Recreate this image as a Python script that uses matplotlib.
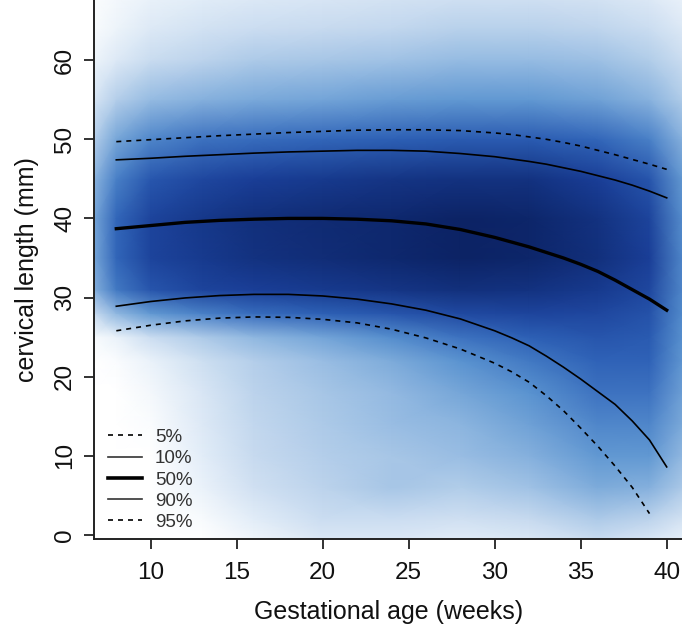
import numpy as np
import matplotlib
matplotlib.use("Agg")
import matplotlib.pyplot as plt
from matplotlib.colors import LinearSegmentedColormap
from matplotlib.lines import Line2D

plt.rcParams['font.family'] = ['Liberation Sans', 'DejaVu Sans']

# ---- percentile curves (gestational age in weeks vs cervical length, mm)
weeks = [8, 10, 12, 14, 16, 18, 20, 22, 24, 26, 28, 30, 31, 32, 33, 34, 35, 36, 37, 38, 39, 40]
p50 = [38.7, 39.1, 39.5, 39.75, 39.9, 40.0, 40.0, 39.9, 39.7, 39.3, 38.6, 37.6, 37.0, 36.4,
       35.7, 35.0, 34.2, 33.3, 32.2, 31.0, 29.8, 28.4]
p90 = [47.4, 47.6, 47.85, 48.05, 48.25, 48.4, 48.5, 48.6, 48.6, 48.5, 48.2, 47.8, 47.5, 47.2,
       46.85, 46.4, 45.95, 45.4, 44.85, 44.2, 43.45, 42.6]
p95 = [49.7, 49.95, 50.2, 50.45, 50.65, 50.85, 51.0, 51.15, 51.2, 51.2, 51.1, 50.8, 50.6, 50.3,
       50.0, 49.6, 49.15, 48.6, 48.05, 47.45, 46.85, 46.2]
p10 = [28.9, 29.5, 29.95, 30.25, 30.4, 30.4, 30.2, 29.8, 29.2, 28.4, 27.3, 25.8, 24.9, 23.9,
       22.6, 21.2, 19.7, 18.1, 16.5, 14.4, 12.0, 8.6]
weeks5 = [8, 10, 12, 14, 16, 18, 20, 22, 24, 26, 28, 30, 31, 32, 33, 34, 35, 36, 37, 38, 39]
p5 = [25.8, 26.5, 27.05, 27.4, 27.55, 27.5, 27.25, 26.8, 26.0, 24.9, 23.5, 21.7, 20.6, 19.3,
      17.6, 15.7, 13.5, 11.2, 8.7, 6.0, 2.7]

# ---- smoothed point density (0 = white .. 1 = darkest)
dens_x = [6.7, 8, 10, 13, 16, 20, 24, 28, 32, 36, 39, 41]
dens_y = [-1, 2, 6, 10, 14, 18, 22, 25, 28, 31, 35, 40, 45, 50, 55, 60, 64, 68]
dens = [
    [0.00, 0.00, 0.00, 0.00, 0.08, 0.18, 0.18, 0.15, 0.18, 0.25, 0.18, 0.12],
    [0.00, 0.00, 0.00, 0.04, 0.16, 0.26, 0.26, 0.24, 0.28, 0.36, 0.32, 0.22],
    [0.00, 0.00, 0.00, 0.12, 0.24, 0.32, 0.38, 0.35, 0.40, 0.50, 0.48, 0.36],
    [0.00, 0.00, 0.00, 0.16, 0.28, 0.34, 0.38, 0.42, 0.48, 0.58, 0.58, 0.44],
    [0.00, 0.00, 0.03, 0.18, 0.30, 0.36, 0.42, 0.46, 0.54, 0.64, 0.64, 0.50],
    [0.00, 0.00, 0.06, 0.20, 0.32, 0.38, 0.44, 0.52, 0.60, 0.70, 0.70, 0.54],
    [0.00, 0.03, 0.12, 0.25, 0.34, 0.42, 0.50, 0.60, 0.68, 0.75, 0.75, 0.58],
    [0.05, 0.12, 0.26, 0.36, 0.45, 0.53, 0.62, 0.70, 0.76, 0.80, 0.78, 0.60],
    [0.28, 0.45, 0.58, 0.66, 0.72, 0.76, 0.80, 0.84, 0.86, 0.85, 0.81, 0.62],
    [0.48, 0.68, 0.80, 0.86, 0.88, 0.90, 0.92, 0.94, 0.93, 0.90, 0.85, 0.63],
    [0.52, 0.74, 0.86, 0.90, 0.93, 0.95, 0.97, 0.99, 0.98, 0.94, 0.88, 0.63],
    [0.52, 0.74, 0.86, 0.91, 0.94, 0.96, 0.97, 0.99, 0.98, 0.93, 0.86, 0.61],
    [0.46, 0.66, 0.79, 0.85, 0.88, 0.90, 0.92, 0.93, 0.93, 0.88, 0.80, 0.57],
    [0.34, 0.52, 0.64, 0.70, 0.72, 0.74, 0.76, 0.78, 0.78, 0.74, 0.66, 0.47],
    [0.21, 0.34, 0.43, 0.48, 0.51, 0.53, 0.56, 0.58, 0.58, 0.54, 0.47, 0.35],
    [0.10, 0.18, 0.27, 0.32, 0.36, 0.38, 0.40, 0.43, 0.43, 0.41, 0.35, 0.26],
    [0.04, 0.10, 0.18, 0.23, 0.26, 0.28, 0.30, 0.33, 0.33, 0.31, 0.26, 0.18],
    [0.02, 0.06, 0.12, 0.16, 0.18, 0.20, 0.22, 0.24, 0.24, 0.22, 0.18, 0.12],
]

x_ticks = [10, 15, 20, 25, 30, 35, 40]
y_ticks = [0, 10, 20, 30, 40, 50, 60]
legend_labels = ["5%", "10%", "50%", "90%", "95%"]

cmap = LinearSegmentedColormap.from_list("smooth", [
    (0.00, "#FFFFFF"), (0.15, "#E4EEF8"), (0.30, "#C2D7EE"), (0.45, "#8FB7E0"),
    (0.60, "#5A93D0"), (0.75, "#2F63B8"), (0.88, "#1A3F98"), (1.00, "#0B2161")])

fig = plt.figure(figsize=(6.82, 6.32), dpi=100)
ax = fig.add_axes([94.3 / 682, (632 - 539.3) / 632, 1 - 94.3 / 682, 539.3 / 632])

X, Y = np.meshgrid(dens_x, dens_y)
ax.pcolormesh(X, Y, np.array(dens), cmap=cmap, vmin=0, vmax=1, shading='gouraud', zorder=0)

dash = (0, (3, 3))
ax.plot(weeks5, p5, color='black', lw=1.2, linestyle=dash, zorder=3)
ax.plot(weeks, p10, color='black', lw=1.2, zorder=3)
ax.plot(weeks, p50, color='black', lw=2.4, zorder=3)
ax.plot(weeks, p90, color='black', lw=1.2, zorder=3)
ax.plot(weeks, p95, color='black', lw=1.2, linestyle=dash, zorder=3)

ax.set_xlim(6.72, 40.89)
ax.set_ylim(-0.55, 67.6)
ax.set_xticks(x_ticks)
ax.set_yticks(y_ticks)
ax.tick_params(axis='both', length=7, width=1.3, color='#222222', labelsize=17.5,
               labelcolor='#111111')
ax.tick_params(axis='x', pad=9)
ax.tick_params(axis='y', pad=6)
for lab in ax.get_yticklabels():
    lab.set_rotation(90)
    lab.set_va('center')
for s in ['top', 'right']:
    ax.spines[s].set_visible(False)
for s in ['left', 'bottom']:
    ax.spines[s].set_linewidth(1.4)
    ax.spines[s].set_color('#222222')

ax.set_xlabel("Gestational age (weeks)", fontsize=18, color='#111111', labelpad=12)
ax.set_ylabel("cervical length (mm)", fontsize=18, color='#111111', labelpad=11)

handles = [
    Line2D([], [], color='black', lw=1.2, linestyle=dash),
    Line2D([], [], color='#333333', lw=1.2),
    Line2D([], [], color='black', lw=2.6),
    Line2D([], [], color='#333333', lw=1.2),
    Line2D([], [], color='black', lw=1.2, linestyle=dash),
]
leg = ax.legend(handles, legend_labels, loc='lower left', bbox_to_anchor=(-0.005, -0.016),
                frameon=False, fontsize=13.5, handlelength=1.8, handletextpad=0.7,
                labelspacing=0.22, borderaxespad=0.5)
for t in leg.get_texts():
    t.set_color('#333333')

fig.savefig("out.png", dpi=100)
